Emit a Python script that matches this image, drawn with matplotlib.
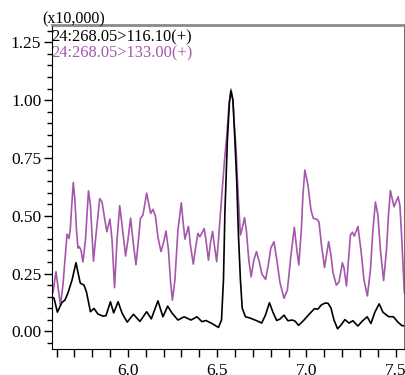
import numpy as np
import matplotlib
matplotlib.use("Agg")
import matplotlib.pyplot as plt
from matplotlib.ticker import MultipleLocator

# retention time (min) / intensity (x10,000)
rt_116 = [5.572, 5.586, 5.605, 5.630, 5.647, 5.664, 5.687, 5.709, 5.720, 5.733,
          5.754, 5.768, 5.790, 5.810, 5.832, 5.860, 5.877, 5.902, 5.920, 5.945,
          5.967, 5.996, 6.031, 6.067, 6.105, 6.131, 6.168, 6.196, 6.2225, 6.247,
          6.280, 6.315, 6.353, 6.3865, 6.4145, 6.437, 6.4705, 6.507, 6.524, 6.535,
          6.543, 6.557, 6.5685, 6.577, 6.588, 6.599, 6.609, 6.619, 6.630, 6.640,
          6.658, 6.683, 6.721, 6.749, 6.770, 6.7925, 6.812, 6.833, 6.851, 6.874,
          6.896, 6.920, 6.935, 6.956, 6.986, 7.016, 7.0445, 7.064, 7.0825, 7.103,
          7.120, 7.137, 7.154, 7.174, 7.193, 7.215, 7.238, 7.260, 7.288, 7.313,
          7.340, 7.361, 7.383, 7.407, 7.428, 7.459, 7.487, 7.512, 7.534, 7.557]
int_116 = [0.150, 0.144, 0.083, 0.125, 0.135, 0.166, 0.222, 0.297, 0.256, 0.209,
           0.200, 0.170, 0.085, 0.099, 0.075, 0.066, 0.068, 0.128, 0.080, 0.128,
           0.079, 0.040, 0.074, 0.043, 0.085, 0.054, 0.132, 0.063, 0.109, 0.079,
           0.049, 0.063, 0.049, 0.063, 0.042, 0.047, 0.034, 0.017, 0.049, 0.222,
           0.512, 0.827, 0.992, 1.039, 1.000, 0.827, 0.654, 0.417, 0.222, 0.101,
           0.063, 0.058, 0.046, 0.036, 0.070, 0.124, 0.083, 0.047, 0.053, 0.070,
           0.046, 0.049, 0.045, 0.026, 0.049, 0.075, 0.098, 0.096, 0.114, 0.122,
           0.122, 0.101, 0.049, 0.011, 0.027, 0.051, 0.036, 0.046, 0.023, 0.045,
           0.063, 0.034, 0.083, 0.119, 0.083, 0.064, 0.063, 0.040, 0.025, 0.023]

rt_133 = [5.571, 5.580, 5.597, 5.611, 5.622, 5.636, 5.647, 5.659, 5.670, 5.677,
          5.685, 5.694, 5.703, 5.712, 5.720, 5.727, 5.737, 5.748, 5.762, 5.779,
          5.790, 5.807, 5.821, 5.842, 5.855, 5.871, 5.882, 5.899, 5.911, 5.925,
          5.939, 5.954, 5.967, 5.987, 6.000, 6.015, 6.028, 6.045, 6.059, 6.070,
          6.084, 6.105, 6.118, 6.127, 6.140, 6.154, 6.168, 6.185, 6.199, 6.213,
          6.227, 6.238, 6.249, 6.263, 6.280, 6.299, 6.308, 6.319, 6.339, 6.350,
          6.366, 6.381, 6.392, 6.403, 6.414, 6.427, 6.437, 6.451, 6.462, 6.474,
          6.484, 6.497, 6.507, 6.525, 6.541, 6.553, 6.566, 6.577, 6.588, 6.596,
          6.605, 6.616, 6.630, 6.638, 6.653, 6.663, 6.677, 6.690, 6.705, 6.720,
          6.736, 6.750, 6.771, 6.786, 6.800, 6.818, 6.834, 6.851, 6.874, 6.893,
          6.913, 6.932, 6.946, 6.957, 6.971, 6.980, 6.991, 7.008, 7.025, 7.038,
          7.059, 7.070, 7.084, 7.101, 7.112, 7.124, 7.137, 7.148, 7.167, 7.182,
          7.201, 7.210, 7.224, 7.235, 7.246, 7.257, 7.268, 7.288, 7.305, 7.322,
          7.341, 7.358, 7.372, 7.386, 7.400, 7.414, 7.432, 7.448, 7.459, 7.470,
          7.478, 7.490, 7.501, 7.513, 7.523, 7.534, 7.548]
int_133 = [0.171, 0.166, 0.258, 0.179, 0.114, 0.200, 0.308, 0.421, 0.402, 0.438,
           0.540, 0.644, 0.568, 0.438, 0.360, 0.367, 0.352, 0.300, 0.395, 0.608,
           0.546, 0.304, 0.417, 0.574, 0.559, 0.481, 0.431, 0.486, 0.395, 0.189,
           0.395, 0.544, 0.460, 0.326, 0.395, 0.490, 0.395, 0.288, 0.395, 0.489,
           0.503, 0.598, 0.546, 0.510, 0.528, 0.499, 0.408, 0.345, 0.382, 0.434,
           0.352, 0.222, 0.135, 0.222, 0.438, 0.556, 0.481, 0.399, 0.454, 0.373,
           0.291, 0.373, 0.424, 0.409, 0.425, 0.445, 0.395, 0.308, 0.382, 0.432,
           0.373, 0.301, 0.395, 0.582, 0.741, 0.842, 0.979, 1.048, 1.000, 0.892,
           0.798, 0.611, 0.417, 0.438, 0.492, 0.438, 0.308, 0.236, 0.308, 0.345,
           0.300, 0.248, 0.225, 0.287, 0.360, 0.388, 0.308, 0.213, 0.143, 0.179,
           0.330, 0.450, 0.352, 0.287, 0.438, 0.590, 0.698, 0.633, 0.525, 0.489,
           0.484, 0.473, 0.373, 0.276, 0.330, 0.388, 0.330, 0.256, 0.200, 0.213,
           0.297, 0.274, 0.196, 0.308, 0.417, 0.429, 0.412, 0.454, 0.352, 0.222,
           0.153, 0.265, 0.438, 0.559, 0.503, 0.352, 0.220, 0.352, 0.503, 0.609,
           0.581, 0.539, 0.559, 0.582, 0.546, 0.395, 0.166]

labels = ["24:268.05>116.10(+)", "24:268.05>133.00(+)"]
purple = "#a557ab"

plt.rcParams['font.family'] = ['Liberation Serif', 'DejaVu Serif']

fig = plt.figure(figsize=(4.06, 3.75), dpi=100)
ax = fig.add_axes([0.1273, 0.0701, 0.8695, 0.8632])

ax.plot(rt_133, int_133, color=purple, lw=1.2)
ax.plot(rt_116, int_116, color="black", lw=1.2)

ax.set_xlim(5.573, 7.55)
ax.set_ylim(-0.075, 1.325)
ax.xaxis.set_major_locator(MultipleLocator(0.5))
ax.xaxis.set_minor_locator(MultipleLocator(0.1))
ax.yaxis.set_major_locator(MultipleLocator(0.25))
ax.yaxis.set_minor_locator(MultipleLocator(0.05))
ax.xaxis.set_major_formatter(matplotlib.ticker.FormatStrFormatter('%.1f'))
ax.yaxis.set_major_formatter(matplotlib.ticker.FormatStrFormatter('%.2f'))

ax.tick_params(axis='x', which='both', direction='out', length=6, width=1, pad=4, labelsize=12.5)
ax.tick_params(axis='y', which='major', direction='out', length=6, width=1, pad=1.5, labelsize=12.5)
ax.tick_params(axis='y', which='minor', direction='out', length=3.6, width=1)

ax.spines['top'].set_color('#8a8a8a')
ax.spines['top'].set_linewidth(2)
ax.spines['right'].set_color('#555555')
ax.spines['right'].set_linewidth(1.2)

fig.text(42 / 406, 1 - 23 / 375, "(x10,000)", fontsize=11.5, va='baseline', ha='left')
ax.text(0.0, 0.985, labels[0], transform=ax.transAxes, fontsize=11.8, color='black', va='top', ha='left')
ax.text(0.0, 0.937, labels[1], transform=ax.transAxes, fontsize=11.8, color=purple, va='top', ha='left')

fig.savefig("out.png", dpi=100)
